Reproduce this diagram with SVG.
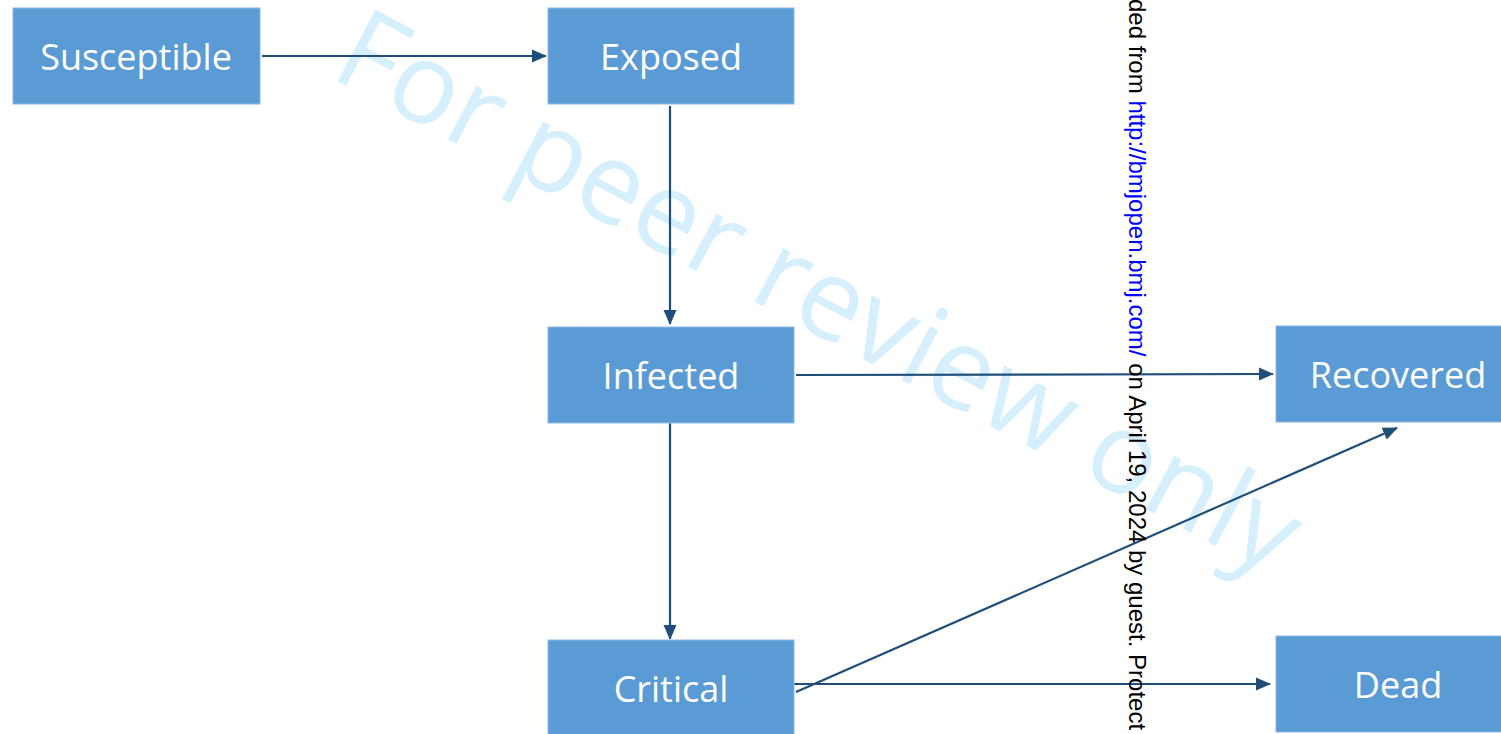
<svg xmlns="http://www.w3.org/2000/svg" width="1501" height="734" viewBox="0 0 1501 734">
<style>
.box{fill:#5b9bd5;stroke:#8fb9e3;stroke-width:1}
.lbl{fill:#ffffff;font-family:"Open Sans","Liberation Sans",sans-serif;font-size:36px;text-anchor:middle;dominant-baseline:central}
.con{stroke:#1f4e79;stroke-width:2.2;fill:none;marker-end:url(#ah)}
.wm{fill:#d5effc;font-family:"Open Sans","Liberation Sans",sans-serif;font-size:113px}
.side{font-family:"Liberation Sans",Arial,sans-serif;font-size:24px;fill:#000}
</style>
<defs>
<marker id="ah" markerWidth="15" markerHeight="15" refX="14" refY="7.5" orient="auto" markerUnits="userSpaceOnUse" viewBox="0 0 15 15">
<path d="M0,1 L15,7.5 L0,14 z" fill="#1f4e79"/>
</marker>
</defs>
<text class="wm" transform="translate(328,76) rotate(27.9)">For peer review only</text>
<g id="connectors">
<line class="con" x1="262" y1="56" x2="546" y2="56"/>
<line class="con" x1="670" y1="106" x2="670" y2="324"/>
<line class="con" x1="796" y1="375" x2="1273" y2="374"/>
<line class="con" x1="670" y1="423" x2="670" y2="639"/>
<line class="con" x1="794" y1="684" x2="1270" y2="684"/>
<line class="con" x1="796" y1="692" x2="1397" y2="428"/>
</g>
<g id="susceptible"><rect class="box" x="13" y="8" width="247" height="96"/><text class="lbl" x="136" y="56">Susceptible</text></g>
<g id="exposed"><rect class="box" x="548" y="8" width="246" height="96"/><text class="lbl" x="671" y="56">Exposed</text></g>
<g id="infected"><rect class="box" x="548" y="327" width="246" height="96"/><text class="lbl" x="671" y="375">Infected</text></g>
<g id="recovered"><rect class="box" x="1276" y="326" width="226" height="96"/><text class="lbl" x="1398" y="374">Recovered</text></g>
<g id="critical"><rect class="box" x="548" y="640" width="246" height="96"/><text class="lbl" x="671" y="688">Critical</text></g>
<g id="dead"><rect class="box" x="1276" y="636" width="226" height="96"/><text class="lbl" x="1398" y="684">Dead</text></g>
<text class="side" transform="translate(1129,-1) rotate(90)">ded from <tspan fill="#0000ff">http://bmjopen.bmj.com/</tspan> on April 19, 2024 by guest. Protect</text>
</svg>
